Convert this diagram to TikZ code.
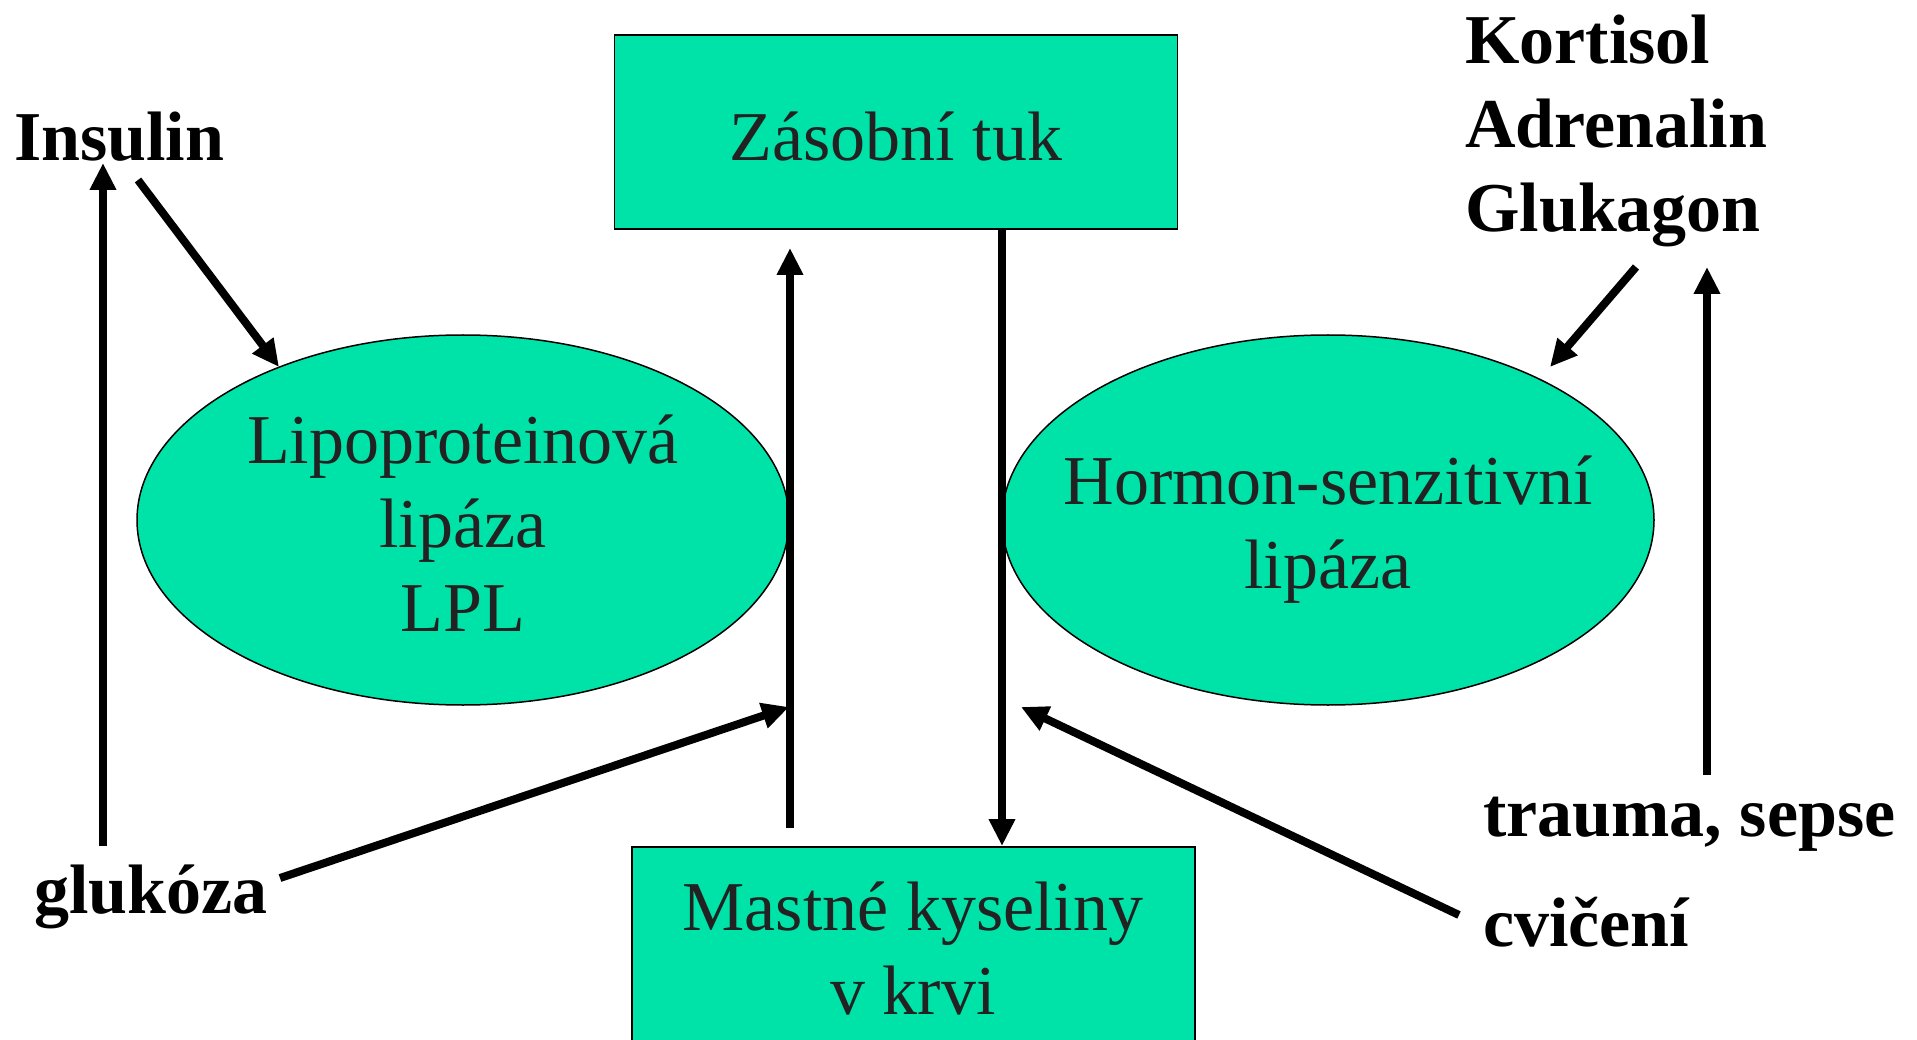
\documentclass[tikz,border=0pt]{standalone}
\usepackage{fontspec}
\setmainfont{Liberation Serif}
\usetikzlibrary{shapes.geometric,arrows.meta}
\definecolor{tealfill}{RGB}{0,227,168}
\definecolor{boxtext}{RGB}{34,34,34}
\tikzset{
  greenbox/.style={draw=black, line width=1.5pt, fill=tealfill, rectangle, inner sep=0pt, text=boxtext, font=\fontsize{70}{84}\selectfont, align=center},
  greenell/.style={draw=black, line width=1.5pt, fill=tealfill, ellipse, inner sep=0pt, minimum width=652pt, minimum height=370pt, text=boxtext, font=\fontsize{70}{84}\selectfont, align=center},
  lbl/.style={font=\fontsize{70}{84}\selectfont\bfseries, inner sep=0pt, align=left},
  arr/.style={line width=8pt, -{Triangle[length=27pt,width=25pt]}}
}
\begin{document}
\begin{tikzpicture}[x=1pt,y=-1pt]
\useasboundingbox (0,0) rectangle (1917,1040);
\clip (0,0) rectangle (1917,1040);
% boxes
\node[greenbox, minimum width=563pt, minimum height=194pt] (fat) at (896,132) {};
\node[font=\fontsize{70}{84}\selectfont, text=boxtext, inner sep=0pt] (fattext) at (896,137) {Zásobní tuk};
\node[greenbox, minimum width=563pt, minimum height=240pt, anchor=north west] (fa) at (631,846) {};
\node[font=\fontsize{70}{84}\selectfont, text=boxtext, inner sep=0pt, align=center] (fatext) at (913,948) {Mastné kyseliny\\v krvi};
% ellipses
\node[greenell] (lpl) at (463,520) {};
\node[font=\fontsize{70}{84}\selectfont, text=boxtext, inner sep=0pt, align=center] (lpltext) at (463,523) {Lipoproteinová\\lipáza\\LPL};
\node[greenell] (hsl) at (1328,520) {};
\node[font=\fontsize{70}{84}\selectfont, text=boxtext, inner sep=0pt, align=center] (hsltext) at (1328,530) {Hormon-senzitivní\\lipáza};
% labels
\node[lbl, anchor=west] (insulin) at (14,137) {Insulin};
\node[lbl, anchor=west] (glukoza) at (34,897) {glukóza};
\node[lbl, anchor=west, align=left] (hormones) at (1465,131) {Kortisol\\Adrenalin\\Glukagon};
\node[lbl, anchor=west] (trauma) at (1483,824) {trauma, sepse};
\node[lbl, anchor=west] (cviceni) at (1483,922) {cvičení};
% coordinates
\coordinate (a1s) at (103,846);
\coordinate (a1e) at (103,163);
\coordinate (a2s) at (138,180);
\coordinate (a2e) at (279,367);
\coordinate (a3s) at (790,828);
\coordinate (a3e) at (790,248);
\coordinate (a4s) at (280,878);
\coordinate (a4e) at (789,707);
\coordinate (a5e) at (1002,846);
\coordinate (a6s) at (1459,915);
\coordinate (a6e) at (1021,707);
\coordinate (a7s) at (1636,267);
\coordinate (a7e) at (1550,367);
\coordinate (a8s) at (1707,775);
\coordinate (a8e) at (1707,267);
% arrows
\draw[arr] (a1s) -- (a1e);
\draw[arr] (a2s) -- (a2e);
\draw[arr] (a3s) -- (a3e);
\draw[arr] (a4s) -- (a4e);
\draw[arr] (fat.south -| a5e) -- (a5e);
\draw[arr] (a6s) -- (a6e);
\draw[arr] (a7s) -- (a7e);
\draw[arr] (a8s) -- (a8e);
\end{tikzpicture}
\end{document}
